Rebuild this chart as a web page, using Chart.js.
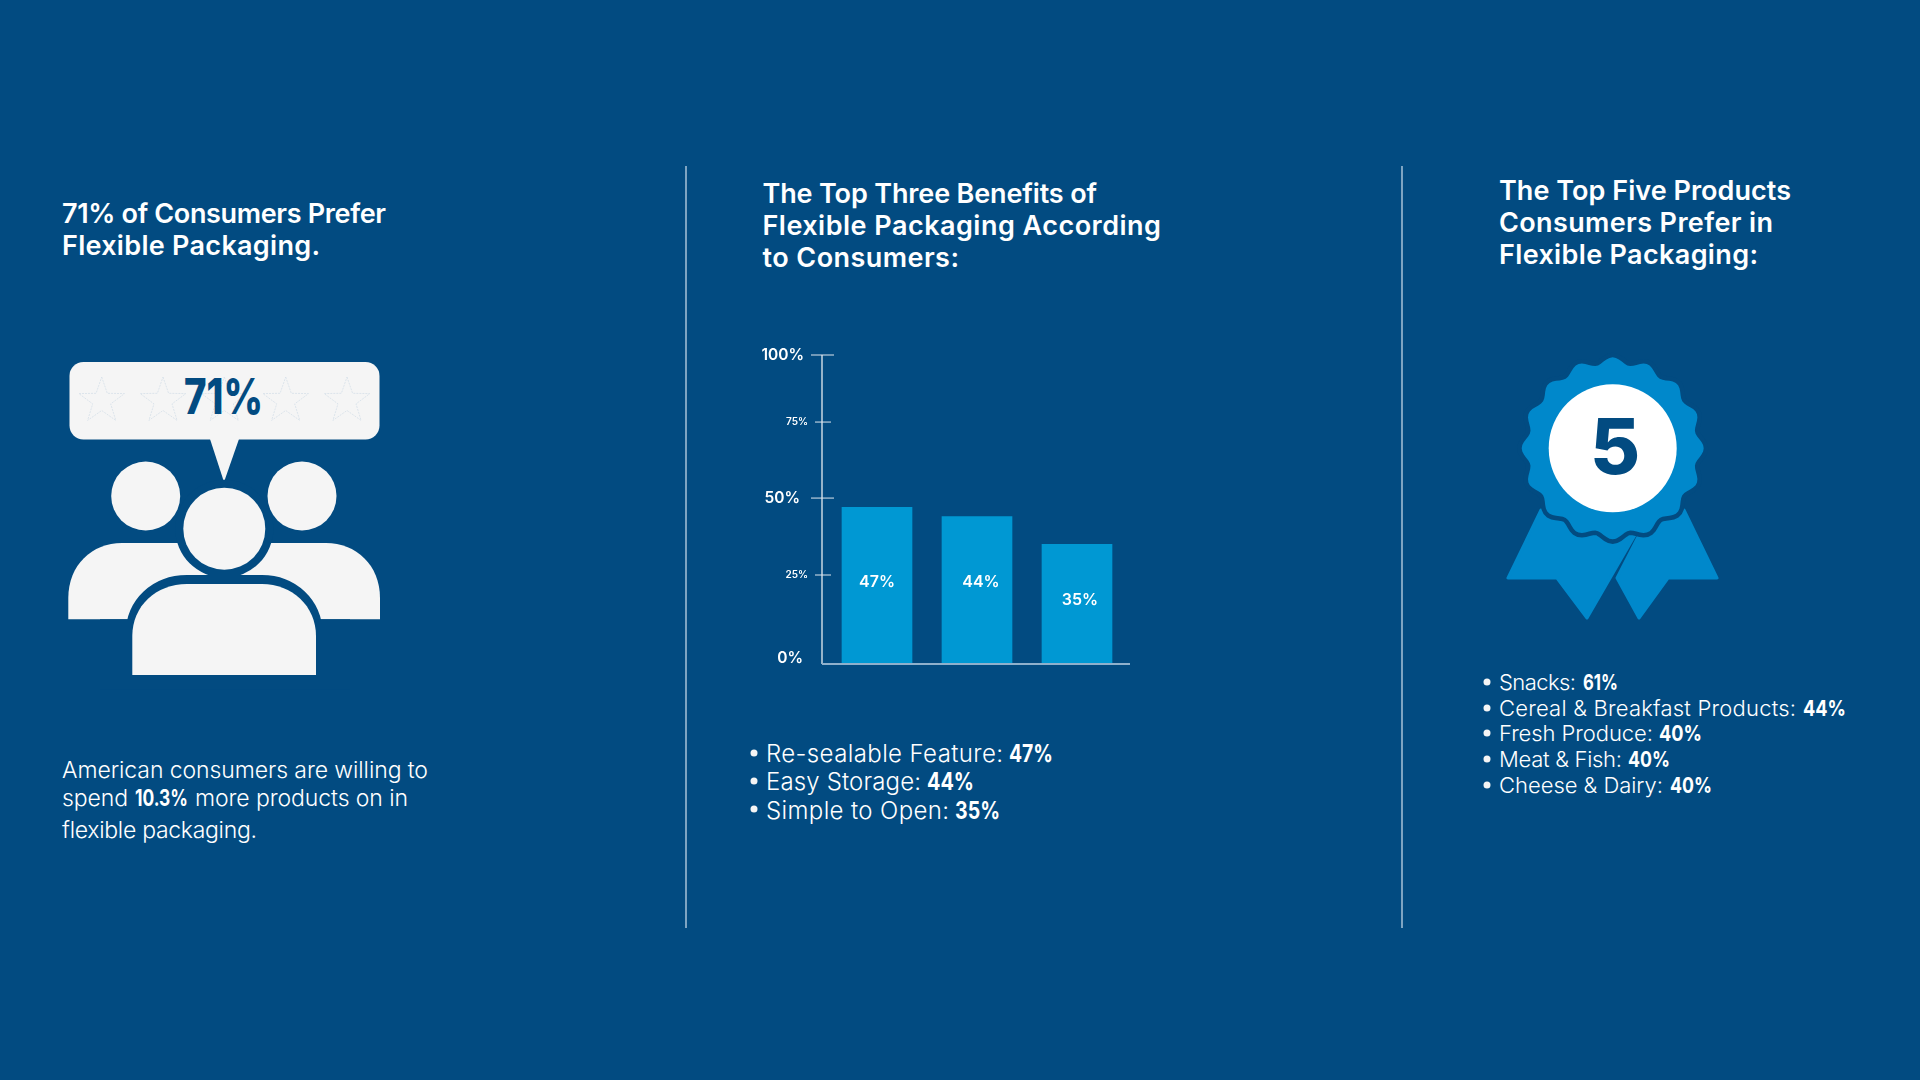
<!DOCTYPE html>
<html>
<head>
<meta charset="utf-8">
<title>Flexible Packaging</title>
<script src="https://cdn.jsdelivr.net/npm/chart.js@4"></script>
<style>
  html, body { margin: 0; padding: 0; width: 1920px; height: 1080px; overflow: hidden; background: #024b81; }
  #art { position: absolute; left: 0; top: 0; }
  #chart { position: absolute; left: 740px; top: 330px; }
  text { font-family: Inter, "Noto Sans", sans-serif; fill: #fff; }
</style>
</head>
<body>
<svg id="art" width="1920" height="1080" viewBox="0 0 1920 1080" xmlns="http://www.w3.org/2000/svg"></svg>
<canvas id="chart" width="420" height="360"></canvas>
<script>
// chart data
const categories = ["Re-sealable Feature", "Easy Storage", "Simple to Open"];
const benefitValues = [47, 44, 35];
const barLabels = ["47%", "44%", "35%"];
const yTickValues = [0, 25, 50, 75, 100];
const yTickLabels = ["0%", "25%", "50%", "75%", "100%"];

// the axis in the picture is not evenly spaced, these are its stops (share of axis height)
const yTickStops = [0, 0.288, 0.537, 0.783, 1];
const yTickNudge = [[-1, -6], [4, 0], [-4, 0], [4, 0], [0, 0]];
const barLabelNudge = [[0, -3], [4, -8], [3, -4]];

const bg = "#024b81";
const ns = "http://www.w3.org/2000/svg";
const art = document.getElementById("art");

function el(name, attrs, parent) {
  const node = document.createElementNS(ns, name);
  for (const k in attrs) node.setAttribute(k, attrs[k]);
  (parent || art).appendChild(node);
  return node;
}

// text runs: x, baseline, right end, size, weight, text
const headSize = 27;
const textLines = [
  [62, 223, 386, headSize, 600, "71% of Consumers Prefer"],
  [62, 255, 320, headSize, 600, "Flexible Packaging."],
  [62, 778, 428, 23, 300, "American consumers are willing to"],
  [62, 806, 128, 23, 300, "spend"],
  [135, 806, 188, 23, 700, "10.3%"],
  [195, 806, 408, 23, 300, "more products on in"],
  [62, 838, 257, 23, 300, "flexible packaging."],
  [762.5, 203, 1097, headSize, 600, "The Top Three Benefits of"],
  [762.5, 235, 1161, headSize, 600, "Flexible Packaging According"],
  [762.5, 267, 959, headSize, 600, "to Consumers:"],
  [766, 762, 1003, 24, 300, "Re-sealable Feature:"],
  [1009, 762, 1053, 24, 700, "47%"],
  [766, 790, 921, 24, 300, "Easy Storage:"],
  [927, 790, 974, 24, 700, "44%"],
  [766, 819, 949, 24, 300, "Simple to Open:"],
  [955, 819, 1000, 24, 700, "35%"],
  [1499, 200, 1791, headSize, 600, "The Top Five Products"],
  [1499, 232, 1773, headSize, 600, "Consumers Prefer in"],
  [1499, 264, 1758, headSize, 600, "Flexible Packaging:"],
  [1499, 690, 1576, 22, 300, "Snacks:"],
  [1583, 690, 1618, 22, 700, "61%"],
  [1499, 716, 1796, 22, 300, "Cereal & Breakfast Products:"],
  [1803, 716, 1846, 22, 700, "44%"],
  [1499, 741, 1653, 22, 300, "Fresh Produce:"],
  [1659, 741, 1702, 22, 700, "40%"],
  [1499, 767, 1622, 22, 300, "Meat & Fish:"],
  [1628, 767, 1670, 22, 700, "40%"],
  [1499, 793, 1663, 22, 300, "Cheese & Dairy:"],
  [1670, 793, 1712, 22, 700, "40%"],
];
const midBullets = [753, 781, 809];
const rightBullets = [682, 708, 733, 759, 785];

// dividers
[686, 1402].forEach(x => el("line", { x1: x, x2: x, y1: 166, y2: 928, stroke: "#a9c2d8", "stroke-width": 1.5 }));

// people icon
const light = "#f5f5f5";
el("rect", { x: 69.5, y: 362, width: 310, height: 77.5, rx: 14, fill: light });
el("path", { d: "M210 439 L239 439 L224 482 Z", fill: light });
[101.7, 163, 224.3, 285.7, 347].forEach(cx => {
  let d = "";
  for (let i = 0; i < 10; i++) {
    const r = i % 2 ? 9.5 : 24;
    const a = -Math.PI / 2 + i * Math.PI / 5;
    d += (i ? "L" : "M") + (cx + r * Math.cos(a)).toFixed(1) + " " + (401 + r * Math.sin(a)).toFixed(1);
  }
  el("path", { d: d + "Z", fill: "none", stroke: "#d5dfe8", "stroke-width": 0.8, "stroke-dasharray": "2 1" });
});
el("text", { x: 184, y: 414, "font-size": 49, "font-weight": 800, textLength: 79, lengthAdjust: "spacingAndGlyphs", style: "fill:" + bg }).textContent = "71%";
el("circle", { cx: 145.7, cy: 496, r: 34.5, fill: light });
el("circle", { cx: 302, cy: 496, r: 34.5, fill: light });
el("path", { d: "M68.3 619.3 V598 C68.3 565 92 543 122 543 H326 C356 543 380 565 380 598 V619.3 Z", fill: light });
el("circle", { cx: 224.3, cy: 528.7, r: 49, fill: bg });
const bodyPath = "M132.3 675 V636 C132.3 606 156 584 187 584 H262 C292 584 316 606 316 636 V675 Z";
el("path", { d: bodyPath, fill: bg, stroke: bg, "stroke-width": 13, transform: "translate(0 -2.5)" });
el("rect", { x: 100, y: 619.3, width: 250, height: 70, fill: bg });
el("path", { d: bodyPath, fill: light });
el("circle", { cx: 224.3, cy: 528.7, r: 41, fill: light });

// rosette icon
const blue = "#0088cb";
el("path", { d: "M1541 510 L1508 578 H1557 L1587 618 L1635 535 Z", fill: blue, stroke: blue, "stroke-width": 3, "stroke-linejoin": "round" });
el("path", { d: "M1684 510 L1717 578 H1668 L1639 618 L1617 578 L1638 537 Z", fill: blue, stroke: blue, "stroke-width": 3, "stroke-linejoin": "round" });
let rosette = "";
for (let i = 0; i <= 360; i += 2) {
  const a = (i - 90) * Math.PI / 180;
  const r = 87.5 + 3.5 * Math.cos(16 * (i * Math.PI / 180));
  rosette += (i ? "L" : "M") + (1612.7 + r * Math.cos(a)).toFixed(1) + " " + (448.3 + r * Math.sin(a)).toFixed(1);
}
el("path", { d: rosette + "Z", fill: blue, stroke: bg, "stroke-width": 9, "paint-order": "stroke" });
el("circle", { cx: 1612.7, cy: 448.3, r: 64, fill: "#fff" });
el("text", { x: 1615, y: 474, "text-anchor": "middle", "font-size": 77, "font-weight": 800, style: "fill:" + bg }).textContent = "5";

// bullets
midBullets.forEach(y => el("circle", { cx: 754, cy: y, r: 3.5, fill: "#f5f5f5" }));
rightBullets.forEach(y => el("circle", { cx: 1487, cy: y, r: 3.5, fill: "#f5f5f5" }));

// text, the bold runs get squeezed as glyphs since Inter's digits are wide
textLines.forEach(([x, y, end, size, weight, str]) => {
  const t = el("text", {
    x, y, "font-size": size, "font-weight": weight, textLength: end - x,
    lengthAdjust: weight === 700 ? "spacingAndGlyphs" : "spacing",
  });
  t.textContent = str;
});

// value axis with the uneven stops of the picture
class UnevenScale extends Chart.LinearScale {
  getPixelForValue(value) {
    let i = 0;
    while (i < yTickValues.length - 2 && value > yTickValues[i + 1]) i++;
    const share = (value - yTickValues[i]) / (yTickValues[i + 1] - yTickValues[i]);
    return this.getPixelForDecimal(yTickStops[i] + share * (yTickStops[i + 1] - yTickStops[i]));
  }
  _computeLabelItems(area) {
    const items = super._computeLabelItems(area);
    items.forEach((item, i) => {
      item.options.translation[0] += yTickNudge[i][0];
      item.options.translation[1] += yTickNudge[i][1];
    });
    return items;
  }
}
UnevenScale.id = "uneven";
UnevenScale.defaults = Chart.LinearScale.defaults;
Chart.register(UnevenScale);

// axis lines, tick marks and the labels inside the bars
const axisPlugin = {
  id: "axisMarks",
  afterDatasetsDraw(chart) {
    const { ctx, chartArea: area, scales } = chart;
    const axisX = area.left - 5;
    ctx.save();
    ctx.strokeStyle = "#c9d6e2";
    ctx.lineWidth = 1.5;
    ctx.beginPath();
    ctx.moveTo(axisX, area.top);
    ctx.lineTo(axisX, area.bottom);
    ctx.stroke();
    scales.y.ticks.forEach((tick, i) => {
      if (tick.value === 0) return;
      const y = scales.y.getPixelForTick(i);
      const major = tick.value % 50 === 0;
      ctx.strokeStyle = "#dfe7ee";
      ctx.lineWidth = 1;
      ctx.beginPath();
      ctx.moveTo(axisX - (major ? 11 : 7), y);
      ctx.lineTo(axisX + (major ? 12 : 9), y);
      ctx.stroke();
    });
    ctx.strokeStyle = "#8fb0cc";
    ctx.lineWidth = 2;
    ctx.beginPath();
    ctx.moveTo(axisX, area.bottom);
    ctx.lineTo(area.right + 3, area.bottom);
    ctx.stroke();

    ctx.fillStyle = "#fff";
    ctx.font = "600 16px Inter, sans-serif";
    ctx.textAlign = "center";
    ctx.textBaseline = "middle";
    chart.getDatasetMeta(0).data.forEach((bar, i) => {
      const mid = (bar.y + bar.base) / 2;
      ctx.fillText(barLabels[i], bar.x + barLabelNudge[i][0], mid + barLabelNudge[i][1]);
    });
    ctx.restore();
  },
};

new Chart(document.getElementById("chart").getContext("2d"), {
  type: "bar",
  data: {
    labels: categories,
    datasets: [{ data: benefitValues, backgroundColor: "#0098d3", barThickness: 70, borderWidth: 0 }],
  },
  options: {
    responsive: false,
    animation: false,
    events: [],
    layout: { padding: { top: 25, bottom: 26, right: 33, left: 0 } },
    plugins: { legend: { display: false }, tooltip: { enabled: false } },
    scales: {
      x: { display: false },
      y: {
        type: "uneven",
        min: 0,
        max: 100,
        afterFit: s => { s.width = 87; s.paddingTop = 0; s.paddingBottom = 0; },
        afterBuildTicks: s => { s.ticks = yTickValues.map(value => ({ value })); },
        border: { display: false },
        grid: { display: false, drawTicks: false },
        ticks: {
          padding: 23,
          color: "#fff",
          autoSkip: false,
          callback: (v, i) => yTickLabels[i],
          font: c => (c.tick && c.tick.value % 50 !== 0)
            ? { family: "Inter, sans-serif", size: 10, weight: "600" }
            : { family: "Inter, sans-serif", size: 15.5, weight: "600" },
        },
      },
    },
  },
  plugins: [axisPlugin],
});
</script>
</body>
</html>
